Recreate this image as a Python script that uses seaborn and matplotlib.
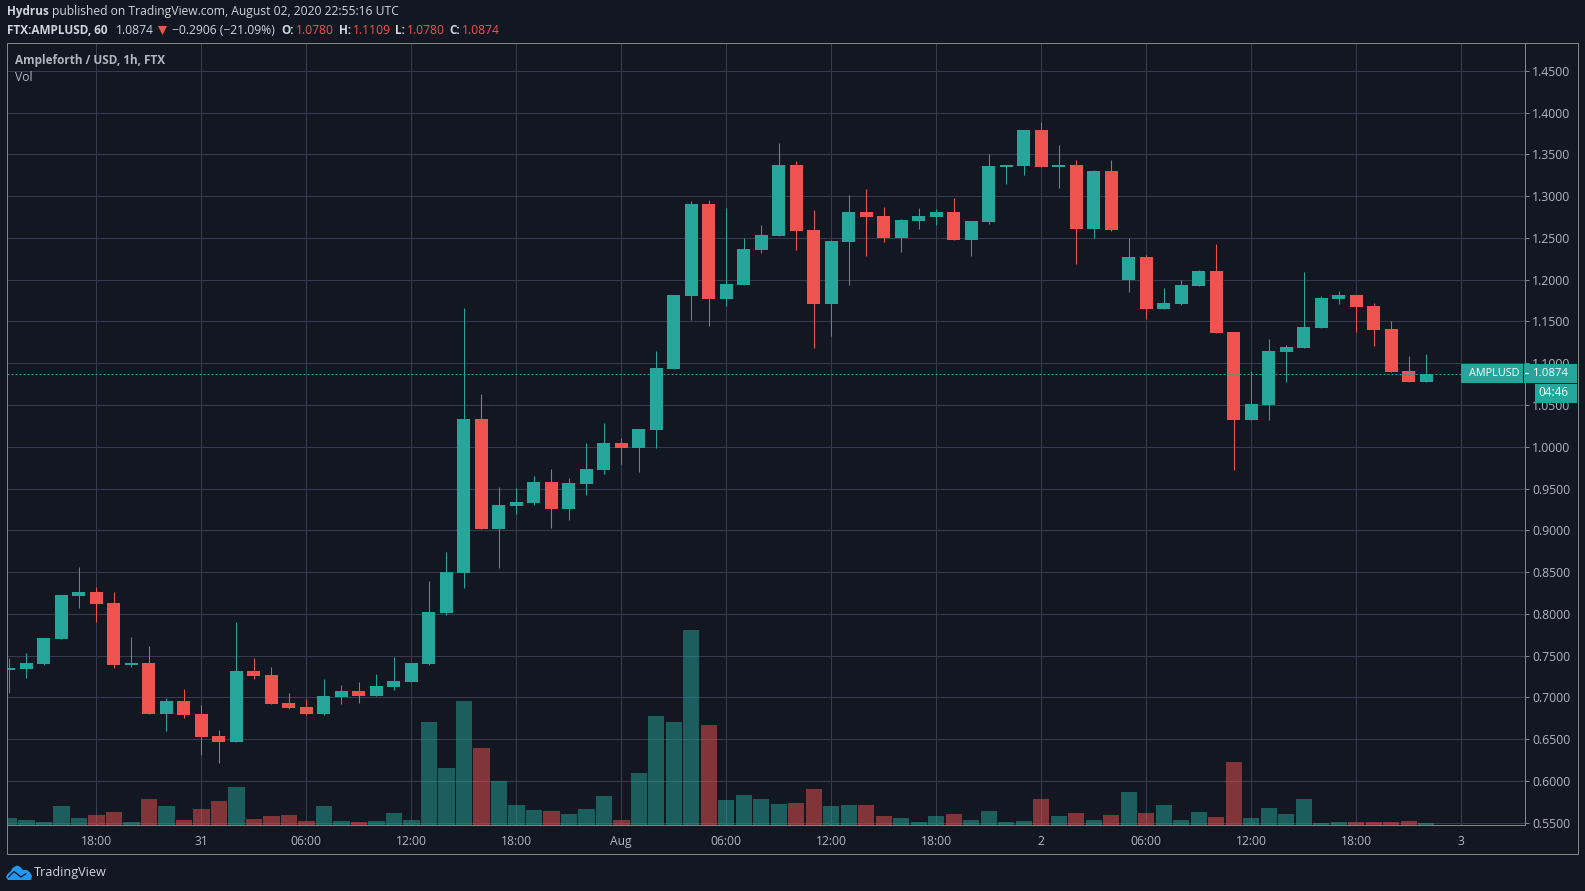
import matplotlib
matplotlib.use("Agg")
import matplotlib.pyplot as plt
from matplotlib.patches import Polygon, Rectangle
import numpy as np
import pandas as pd
import seaborn as sns

BG = "#131722"
GRID = "#363c4e"
FRAME = "#858585"
UP = "#26a69a"
DOWN = "#ef5350"
TEXT = "#d1d4dc"
AXIS_TEXT = "#b2b5be"

# hourly candles, first one is Jul 30 13:00
open_ = [0.7324, 0.7336, 0.7395, 0.7695, 0.8209, 0.8257, 0.8126, 0.7383, 0.7407, 0.6797,
         0.6953, 0.6797, 0.6534, 0.6462, 0.7312, 0.7264, 0.6929, 0.6881, 0.6797, 0.7000,
         0.7072, 0.7012, 0.7120, 0.7180, 0.7395, 0.8006, 0.8485, 1.0329, 0.9012, 0.9287,
         0.9323, 0.9574, 0.9251, 0.9551, 0.9718, 1.0041, 0.9981, 1.0197, 1.0927, 1.1801,
         1.2902, 1.1765, 1.1932, 1.2351, 1.2519, 1.3369, 1.2591, 1.1705, 1.2447, 1.2806,
         1.2758, 1.2495, 1.2698, 1.2746, 1.2806, 1.2471, 1.2686, 1.3345, 1.3357, 1.3788,
         1.3345, 1.3369, 1.2603, 1.3297, 1.1992, 1.2268, 1.1645, 1.1705, 1.1921, 1.2100,
         1.1370, 1.0317, 1.0496, 1.1131, 1.1179, 1.1418, 1.1765, 1.1813, 1.1681, 1.1406,
         1.0903, 1.0780]
high = [0.7467, 0.7527, 0.7707, 0.8221, 0.8557, 0.8317, 0.8257, 0.7719, 0.7611, 0.6988,
        0.7096, 0.6905, 0.6605, 0.7898, 0.7467, 0.7360, 0.7048, 0.6976, 0.7216, 0.7144,
        0.7180, 0.7276, 0.7479, 0.7407, 0.8389, 0.8736, 1.1657, 1.0628, 0.9515, 0.9503,
        0.9646, 0.9730, 0.9622, 1.0041, 1.0281, 1.0101, 1.0209, 1.1143, 1.1813, 1.2938,
        1.2950, 1.2854, 1.2495, 1.2650, 1.3632, 1.3417, 1.2830, 1.2471, 1.3010, 1.3082,
        1.2866, 1.2722, 1.2854, 1.2842, 1.2974, 1.2698, 1.3500, 1.3369, 1.3788, 1.3884,
        1.3608, 1.3429, 1.3309, 1.3429, 1.2495, 1.2292, 1.1897, 1.2000, 1.2112, 1.2423,
        1.1370, 1.0903, 1.1286, 1.1214, 1.2088, 1.1801, 1.1861, 1.1813, 1.1717, 1.1502,
        1.1083, 1.1109]
low = [0.7048, 0.7228, 0.7383, 0.7695, 0.8066, 0.7898, 0.7348, 0.7360, 0.6797, 0.6593,
       0.6749, 0.6306, 0.6210, 0.6462, 0.7216, 0.6917, 0.6857, 0.6785, 0.6785, 0.6917,
       0.6929, 0.7012, 0.7084, 0.7180, 0.7383, 0.7982, 0.8305, 0.9012, 0.8545, 0.9191,
       0.9299, 0.9024, 0.9120, 0.9419, 0.9670, 0.9790, 0.9694, 0.9981, 1.0927, 1.1513,
       1.1441, 1.1681, 1.1932, 1.2315, 1.2519, 1.2351, 1.1178, 1.1322, 1.1932, 1.2279,
       1.2447, 1.2327, 1.2603, 1.2650, 1.2471, 1.2279, 1.2662, 1.3141, 1.3249, 1.3345,
       1.3094, 1.2184, 1.2495, 1.2579, 1.1848, 1.1526, 1.1645, 1.1693, 1.1921, 1.1358,
       0.9718, 1.0317, 1.0317, 1.0772, 1.1179, 1.1418, 1.1705, 1.1370, 1.1202, 1.0891,
       1.0772, 1.0780]
close = [0.7348, 0.7407, 0.7707, 0.8221, 0.8257, 0.8114, 0.7383, 0.7407, 0.6797, 0.6953,
         0.6785, 0.6522, 0.6462, 0.7312, 0.7252, 0.6917, 0.6869, 0.6797, 0.7012, 0.7072,
         0.7012, 0.7132, 0.7192, 0.7407, 0.8018, 0.8497, 1.0329, 0.9012, 0.9299, 0.9335,
         0.9574, 0.9251, 0.9562, 0.9730, 1.0041, 0.9981, 1.0209, 1.0939, 1.1813, 1.2902,
         1.1765, 1.1944, 1.2363, 1.2531, 1.3369, 1.2579, 1.1705, 1.2459, 1.2806, 1.2746,
         1.2495, 1.2710, 1.2758, 1.2806, 1.2471, 1.2698, 1.3357, 1.3369, 1.3788, 1.3345,
         1.3369, 1.2603, 1.3297, 1.2591, 1.2267, 1.1645, 1.1717, 1.1933, 1.2100, 1.1358,
         1.0317, 1.0508, 1.1143, 1.1191, 1.1430, 1.1777, 1.1813, 1.1669, 1.1394, 1.0891,
         1.0772, 1.0874]
volume = [7, 5, 3, 19, 7, 10, 13, 3, 26, 19, 5, 16, 24, 38, 6, 9, 10, 4, 19, 4,
          3, 4, 12, 5, 103, 57, 124, 77, 44, 20, 15, 14, 11, 16, 29, 5, 52, 109, 103, 195,
          100, 25, 30, 26, 21, 22, 36, 19, 20, 20, 9, 7, 3, 9, 11, 5, 14, 3, 4, 26,
          9, 12, 5, 10, 33, 12, 20, 5, 13, 8, 63, 7, 17, 11, 26, 2, 3, 3, 3, 3,
          4, 2]

x_ticks = [5, 11, 17, 23, 29, 35, 41, 47, 53, 59, 65, 71, 77, 83]
x_labels = ["18:00", "31", "06:00", "12:00", "18:00", "Aug", "06:00", "12:00", "18:00", "2",
            "06:00", "12:00", "18:00", "3"]
y_ticks = np.arange(0.55, 1.451, 0.05)
last_price = 1.0874

df = pd.DataFrame({"open": open_, "high": high, "low": low, "close": close, "volume": volume})
df["bar"] = df.index
df["up"] = df["close"] >= df["open"]
df["body_low"] = df[["open", "close"]].min(axis=1)
df["body"] = (df["open"] - df["close"]).abs()

sns.set_theme(style="dark", rc={"figure.facecolor": BG, "axes.facecolor": BG, "savefig.facecolor": BG})
plt.rcParams["font.family"] = ["Open Sans", "DejaVu Sans"]

fig = plt.figure(figsize=(15.85, 8.91), dpi=100)
W, H = 1585.0, 891.0
ax = fig.add_axes([6.5 / W, (H - 825.3) / H, (1524.6 - 6.5) / W, (825.3 - 43.3) / H])
vol_ax = ax.twinx()
ax.set_zorder(1)
vol_ax.set_zorder(2)
vol_ax.patch.set_visible(False)

# wicks then bodies
for is_up, color in [(True, UP), (False, DOWN)]:
    part = df[df["up"] == is_up]
    ax.vlines(part["bar"], part["low"], part["high"], color=color, lw=0.75, zorder=2)
    sns.barplot(data=part, x="bar", y="body", bottom=part["body_low"].values, native_scale=True,
                width=0.74, color=color, saturation=1, linewidth=0, ax=ax, zorder=3)
    sns.barplot(data=part, x="bar", y="volume", native_scale=True, width=0.94, color=color,
                saturation=1, alpha=0.5, linewidth=0, ax=vol_ax)

ax.axhline(last_price, color=UP, lw=0.72, dashes=(2, 2), zorder=4)

ax.set_xlim(-0.131, 86.62)
ax.set_ylim(0.5468, 1.483)
vol_ax.set_ylim(0, 782)
vol_ax.set_yticks([])
vol_ax.set_ylabel("")
vol_ax.set_xlabel("")
ax.set_xlabel("")
ax.set_ylabel("")
ax.yaxis.tick_right()
ax.set_yticks(y_ticks)
ax.set_yticklabels([f"{v:.4f}" for v in y_ticks])
ax.set_xticks(x_ticks)
ax.set_xticklabels(x_labels)
ax.grid(True, color=GRID, lw=0.72)
ax.set_axisbelow(True)
ax.tick_params(axis="x", length=3, width=0.72, color=FRAME, labelcolor=AXIS_TEXT, labelsize=8.7, pad=4)
ax.tick_params(axis="y", length=3, width=0.72, color=FRAME, labelcolor=AXIS_TEXT, labelsize=8.8, pad=2.5)
for a in (ax, vol_ax):
    for s in a.spines.values():
        s.set_color(FRAME)
        s.set_linewidth(0.72)

# everything around the chart, placed in pixels
top = fig.add_axes([0, 0, 1, 1], zorder=10)
top.set_xlim(0, W)
top.set_ylim(H, 0)
top.axis("off")
top.add_patch(Rectangle((6.5, 43.3), 1571.3, 811, fill=False, ec=FRAME, lw=0.72))


def label(x, y, s, color=TEXT, bold=False, size=8.7, ha="left"):
    top.text(x, y, s, color=color, fontsize=size, fontweight="bold" if bold else "normal",
             ha=ha, va="center")


label(6.8, 12, "Hydrus", bold=True, size=8.5)
label(52.4, 12, "published on TradingView.com, August 02, 2020 22:55:16 UTC")
label(6.8, 30, "FTX:AMPLUSD, 60", bold=True, size=8.5)
label(115.6, 30, "1.0874")
top.add_patch(Polygon([(158, 26), (167, 26), (162.5, 35)], color=DOWN, lw=0))
label(171.7, 30, "\u22120.2906 (\u221221.09%)")
for x_key, key, x_val, val in [(281.6, "O:", 295.8, "1.0780"), (338.7, "H:", 352.6, "1.1109"),
                               (395.5, "L:", 406.7, "1.0780"), (449, "C:", 461.8, "1.0874")]:
    label(x_key, 30, key, bold=True, size=8.5)
    label(x_val, 30, val, color=DOWN)

label(15, 60.5, "Ampleforth / USD, 1h, FTX", color=AXIS_TEXT, bold=True, size=8.5)
label(15, 77.5, "Vol", color=AXIS_TEXT)

# last price tags
top.add_patch(Rectangle((1461, 364), 62, 18.7, color=UP, lw=0))
top.add_patch(Rectangle((1524, 364), 53, 18.7, color=UP, lw=0))
top.add_patch(Rectangle((1535, 384), 42, 18.7, color=UP, lw=0))
top.plot([1524.6, 1528], [373.4, 373.4], color="white", lw=0.8)
label(1494, 373, "AMPLUSD", color="white", size=7.8, ha="center")
label(1551, 373, "1.0874", color="white", size=8.2, ha="center")
label(1553.5, 393, "04:46", color="white", size=8.4, ha="center")

# logo
top.add_patch(Polygon([(6, 877), (7.5, 874), (10.5, 871.5), (13, 867.5), (17, 865.5), (20.5, 867),
                       (23, 870), (27, 870), (30, 872.5), (32, 876), (31, 880), (8, 880)],
                      color="#2196f3", lw=0))
top.plot([8.5, 14, 21, 26], [877, 871.5, 877, 873.5], color=BG, lw=0.9)
label(34, 872.5, "TradingView", size=9.1)

fig.savefig("out.png", dpi=100)
